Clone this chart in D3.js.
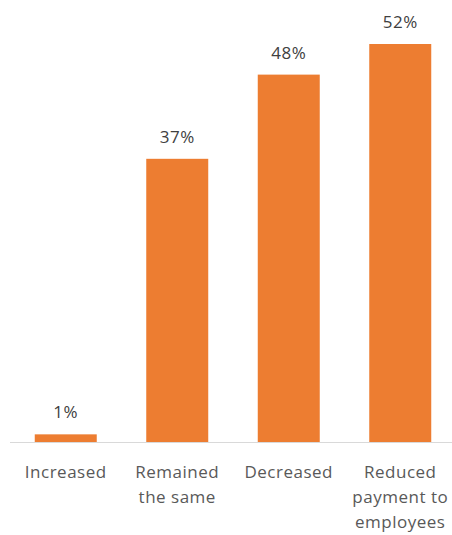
<!DOCTYPE html>
<html><head><meta charset="utf-8">
<script src="https://cdn.jsdelivr.net/npm/d3@7"></script>
<style>body{margin:0;background:#fff}</style>
</head><body>
<svg id="c" width="452" height="535"></svg>
<script>
const categories = [["Increased"], ["Remained", "the same"], ["Decreased"], ["Reduced", "payment to", "employees"]];
const values = [1, 37, 48, 52];
const valueLabels = ["1%", "37%", "48%", "52%"];

const svg = d3.select("#c");
const base = 442;
const x = d3.scaleBand().domain(d3.range(values.length)).range([10, 456]).paddingInner(0.444).paddingOuter(0.222);
const y = d3.scaleLinear().domain([0, 52]).range([base, 44]);

svg.append("line").attr("x1", 10).attr("x2", 452).attr("y1", base + 0.5).attr("y2", base + 0.5)
  .attr("stroke", "#D9D9D9").attr("stroke-width", 1);

svg.selectAll("rect.bar").data(values).join("rect").attr("class", "bar")
  .attr("x", (d, i) => x(i)).attr("width", x.bandwidth())
  .attr("y", d => y(d)).attr("height", d => base - y(d))
  .attr("fill", "#ED7D31");

svg.selectAll("text.val").data(values).join("text").attr("class", "val")
  .attr("x", (d, i) => x(i) + x.bandwidth() / 2).attr("y", d => y(d) - 16)
  .attr("text-anchor", "middle").attr("font-family", "Open Sans").attr("font-size", 17)
  .attr("letter-spacing", 0.5)
  .attr("fill", "#404040").text((d, i) => valueLabels[i]);

const g = svg.selectAll("text.cat").data(categories).join("text").attr("class", "cat")
  .attr("text-anchor", "middle").attr("font-family", "Open Sans").attr("font-size", 17)
  .attr("letter-spacing", 0.5)
  .attr("fill", "#595959");
g.selectAll("tspan").data((d, i) => d.map(s => ({s, i}))).join("tspan")
  .attr("x", d => x(d.i) + x.bandwidth() / 2)
  .attr("y", (d, j) => 478 + j * 25)
  .text(d => d.s);
</script>
</body></html>
